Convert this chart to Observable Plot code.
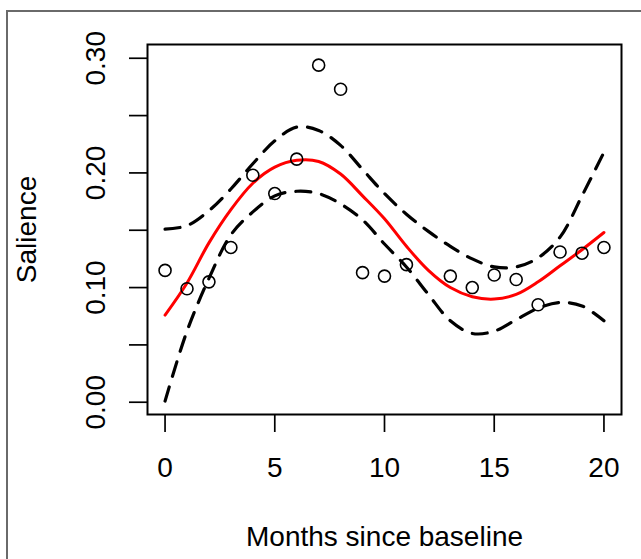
<!DOCTYPE html>
<html>
<head>
<meta charset="utf-8">
<script src="https://cdn.jsdelivr.net/npm/d3@7"></script>
<script src="https://cdn.jsdelivr.net/npm/@observablehq/plot@0.6"></script>
<style>
  html, body { margin: 0; padding: 0; background: white; }
  #wrap { position: relative; width: 641px; height: 559px; overflow: hidden; }
  #wrap::before {
    content: ""; position: absolute; left: 6px; top: 10px; right: -10px; bottom: -10px;
    border-top: 2px solid #6a6a6a; border-left: 2px solid #6a6a6a; pointer-events: none;
  }
</style>
</head>
<body>
<div id="wrap"></div>
<script>
// Observed points
const months = [0, 1, 2, 3, 4, 5, 6, 7, 8, 9, 10, 11, 13, 14, 15, 16, 17, 18, 19, 20];
const salience = [0.115, 0.099, 0.105, 0.135, 0.198, 0.182, 0.212, 0.294, 0.273, 0.113,
                  0.110, 0.120, 0.110, 0.100, 0.111, 0.107, 0.085, 0.131, 0.130, 0.135];

// Fitted curve and confidence band
const fitMonths = [0, 1, 2, 3, 4, 5, 6, 7, 8, 9, 10, 11, 12, 13, 14, 15, 16, 17, 18, 19, 20];
const fitValue = [0.076, 0.104, 0.139, 0.168, 0.191, 0.205, 0.211, 0.210, 0.199, 0.180, 0.160,
                  0.136, 0.115, 0.100, 0.092, 0.090, 0.094, 0.105, 0.119, 0.133, 0.148];
const upperValue = [0.151, 0.154, 0.167, 0.186, 0.208, 0.228, 0.240, 0.237, 0.224, 0.203, 0.182,
                    0.164, 0.149, 0.136, 0.125, 0.118, 0.118, 0.126, 0.144, 0.180, 0.218];
const lowerValue = [0.001, 0.062, 0.108, 0.146, 0.166, 0.180, 0.184, 0.182, 0.173, 0.159, 0.138,
                    0.118, 0.094, 0.071, 0.060, 0.062, 0.072, 0.082, 0.087, 0.084, 0.071];

// Tick labels
const xTicks = [0, 5, 10, 15, 20];
const yTicks = [0.00, 0.05, 0.10, 0.15, 0.20, 0.25, 0.30];
const yLabelTicks = [0.00, 0.10, 0.20, 0.30];

const points = months.map((m, i) => ({month: m, value: salience[i]}));
const fit = fitMonths.map((m, i) => ({month: m, fit: fitValue[i], upper: upperValue[i], lower: lowerValue[i]}));

const font = "'Liberation Sans', Arial, Helvetica, sans-serif";

const chart = Plot.plot({
  width: 641,
  height: 559,
  marginLeft: 147,
  marginRight: 20,
  marginTop: 44,
  marginBottom: 145,
  style: {fontFamily: font, fontSize: "28px", color: "black", background: "transparent"},
  x: {domain: [-0.8, 20.8], axis: null},
  y: {domain: [-0.0107, 0.3120], axis: null},
  marks: [
    Plot.line(fit, {x: "month", y: "upper", stroke: "black", strokeWidth: 3.2,
                    strokeDasharray: "15,11", curve: "catmull-rom"}),
    Plot.line(fit, {x: "month", y: "lower", stroke: "black", strokeWidth: 3.2,
                    strokeDasharray: "15,11", curve: "catmull-rom"}),
    Plot.line(fit, {x: "month", y: "fit", stroke: "#ff0000", strokeWidth: 3, curve: "catmull-rom"}),
    Plot.dot(points, {x: "month", y: "value", r: 6, stroke: "black", strokeWidth: 1.6, fill: "none"}),
    Plot.frame({stroke: "black", strokeWidth: 2}),
    Plot.axisX({ticks: xTicks, tickSize: 18, tickPadding: 25, strokeWidth: 1.7,
                fontSize: 28, label: null, tickFormat: d => String(d)}),
    Plot.axisY({ticks: yTicks, tickSize: 18, strokeWidth: 1.7, label: null, tickFormat: () => ""}),
    Plot.text(yLabelTicks, {y: d => d, text: d => d.toFixed(2), frameAnchor: "left", dx: -51,
                            rotate: -90, textAnchor: "middle", lineAnchor: "middle", fontSize: 28}),
    Plot.text(["Salience"], {frameAnchor: "left", dx: -120, rotate: -90,
                             textAnchor: "middle", lineAnchor: "middle", fontSize: 28}),
    Plot.text(["Months since baseline"], {frameAnchor: "bottom", dy: 123,
                                          textAnchor: "middle", lineAnchor: "middle", fontSize: 28})
  ]
});

document.getElementById("wrap").appendChild(chart);
</script>
</body>
</html>
